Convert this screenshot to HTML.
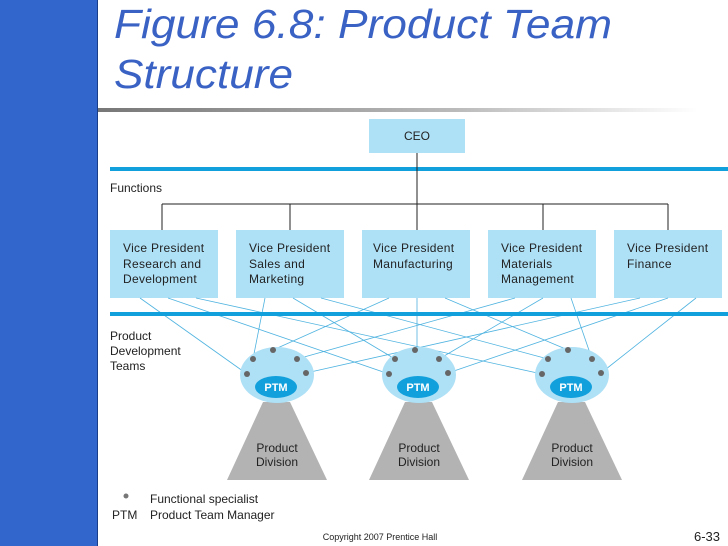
<!DOCTYPE html>
<html><head><meta charset="utf-8"><style>
html,body{margin:0;padding:0;background:#fff;}
svg{display:block;}
text{font-family:"Liberation Sans",sans-serif;}
</style></head><body>
<svg width="728" height="546" viewBox="0 0 728 546" xmlns="http://www.w3.org/2000/svg">
<defs>
<linearGradient id="g" x1="0" x2="1" y1="0" y2="0">
<stop offset="0" stop-color="#777"/><stop offset="0.6" stop-color="#bbb"/><stop offset="1" stop-color="#fff"/>
</linearGradient>
</defs>
<rect x="0" y="0" width="97" height="546" fill="#3366cc"/>
<rect x="97" y="0" width="1" height="546" fill="#1a3d8a"/>
<text x="114" y="38" font-size="41" font-style="italic" fill="#3a62c4" textLength="498" lengthAdjust="spacingAndGlyphs">Figure 6.8: Product Team</text>
<text x="114" y="88" font-size="41" font-style="italic" fill="#3a62c4" textLength="179" lengthAdjust="spacingAndGlyphs">Structure</text>
<rect x="98" y="108" width="600" height="4" fill="url(#g)"/>

<rect x="369" y="119" width="96" height="34" fill="#aee0f6"/>
<text x="417" y="140" font-size="12" text-anchor="middle" fill="#222">CEO</text>
<rect x="110" y="167" width="618" height="4" fill="#12a0dc"/>
<text x="110" y="192" font-size="12" fill="#222">Functions</text>
<g stroke="#222" stroke-width="1" fill="none">
<line x1="417" y1="153" x2="417" y2="230"/>
<line x1="162" y1="204" x2="668" y2="204"/>
<line x1="162" y1="204" x2="162" y2="230"/>
<line x1="290" y1="204" x2="290" y2="230"/>
<line x1="543" y1="204" x2="543" y2="230"/>
<line x1="668" y1="204" x2="668" y2="230"/>
</g>
<g fill="#aee0f6">
<rect x="110" y="230" width="108" height="68"/>
<rect x="236" y="230" width="108" height="68"/>
<rect x="362" y="230" width="108" height="68"/>
<rect x="488" y="230" width="108" height="68"/>
<rect x="614" y="230" width="108" height="68"/>
</g>
<g font-size="12" fill="#222" letter-spacing="0.3">
<text x="123" y="252">Vice President</text><text x="123" y="268">Research and</text><text x="123" y="283">Development</text>
<text x="249" y="252">Vice President</text><text x="249" y="268">Sales and</text><text x="249" y="283">Marketing</text>
<text x="373" y="252">Vice President</text><text x="373" y="268">Manufacturing</text>
<text x="501" y="252">Vice President</text><text x="501" y="268">Materials</text><text x="501" y="283">Management</text>
<text x="627" y="252">Vice President</text><text x="627" y="268">Finance</text>
</g>

<g stroke="#4fb3e0" stroke-width="0.8">
<line x1="140" y1="298" x2="247" y2="374"/><line x1="168" y1="298" x2="389" y2="374"/><line x1="196" y1="298" x2="542" y2="374"/>
<line x1="265" y1="298" x2="253" y2="359"/><line x1="293" y1="298" x2="395" y2="359"/><line x1="321" y1="298" x2="548" y2="359"/>
<line x1="389" y1="298" x2="273" y2="350"/><line x1="417" y1="298" x2="417" y2="350"/><line x1="445" y1="298" x2="568" y2="350"/>
<line x1="515" y1="298" x2="297" y2="359"/><line x1="543" y1="298" x2="439" y2="359"/><line x1="571" y1="298" x2="592" y2="359"/>
<line x1="640" y1="298" x2="306" y2="373"/><line x1="668" y1="298" x2="448" y2="373"/><line x1="696" y1="298" x2="601" y2="373"/>
</g>
<rect x="110" y="312" width="618" height="4" fill="#12a0dc"/>
<g font-size="12" fill="#222">
<text x="110" y="340">Product</text><text x="110" y="355">Development</text><text x="110" y="370">Teams</text>
</g>

<g id="t1">
<polygon points="263,402 290,402 327,480 227,480" fill="#b3b3b3"/>
<ellipse cx="277" cy="375" rx="37" ry="28" fill="#aee0f6"/>
<ellipse cx="276" cy="387" rx="21" ry="11" fill="#12a0dc"/>
<text x="276" y="391" font-size="11" font-weight="bold" fill="#fff" text-anchor="middle">PTM</text>
<g fill="#666"><circle cx="273" cy="350" r="3"/><circle cx="253" cy="359" r="3"/><circle cx="297" cy="359" r="3"/><circle cx="247" cy="374" r="3"/><circle cx="306" cy="373" r="3"/></g>
<text x="277" y="452" font-size="12" fill="#222" text-anchor="middle">Product</text>
<text x="277" y="466" font-size="12" fill="#222" text-anchor="middle">Division</text>
</g>
<use href="#t1" x="142"/>
<use href="#t1" x="295"/>

<circle cx="126" cy="496" r="2.5" fill="#777"/>
<text x="150" y="503" font-size="12" fill="#222">Functional specialist</text>
<text x="112" y="519" font-size="12" fill="#222">PTM</text>
<text x="150" y="519" font-size="12" fill="#222">Product Team Manager</text>
<text x="380" y="540" font-size="9" fill="#222" text-anchor="middle">Copyright 2007 Prentice Hall</text>
<text x="720" y="541" font-size="13" fill="#222" text-anchor="end">6-33</text>
</svg>
</body></html>
